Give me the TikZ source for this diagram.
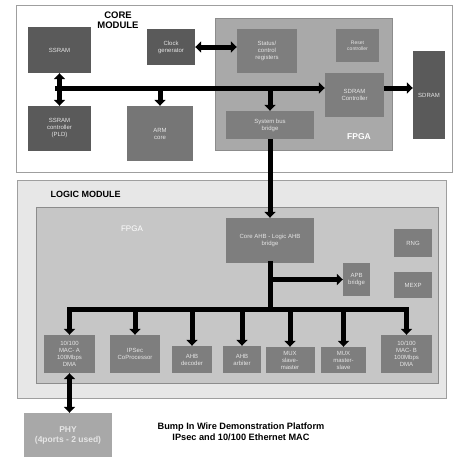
\documentclass[tikz,border=0pt]{standalone}
\usepackage{fontspec}
\setmainfont{Liberation Sans}
\usepackage{xcolor}
\usepackage{tikz}
\usetikzlibrary{arrows.meta,positioning}
\definecolor{bwdark}{HTML}{5A5A5A}
\definecolor{bwmid}{HTML}{7E7E7E}
\definecolor{bwarm}{HTML}{767676}
\definecolor{bwcorefpga}{HTML}{A9A9A9}
\definecolor{bwlogic}{HTML}{E7E7E7}
\definecolor{bwlogicfpga}{HTML}{C6C6C6}
\definecolor{bwphy}{HTML}{A8A8A8}
\tikzset{
  module/.style={draw=gray!75, fill=white, line width=0.8pt, inner sep=0pt},
  fpgabox/.style={draw=gray!90, fill=bwcorefpga, line width=0.6pt, inner sep=0pt},
  box/.style={fill=bwmid, text=white!90!black, align=center, inner sep=1pt, font=\fontsize{6}{7}\selectfont},
  darkbox/.style={box, fill=bwdark},
  title/.style={align=center, font=\fontsize{9.5}{10}\selectfont\bfseries},
  bus/.style={-{Triangle[length=6pt,width=11pt]}, line width=5pt},
  dbus/.style={{Triangle[length=6pt,width=11pt]}-{Triangle[length=6pt,width=11pt]}, line width=5pt},
  busline/.style={line width=5pt, line cap=rect}
}
\begin{document}
\begin{tikzpicture}[x=1pt, y=-1pt]
  \useasboundingbox (0,0) rectangle (460,463);

  % core module
  \node[module, minimum width=436pt, minimum height=167pt] (coremod) at (234,88.5) {};
  \node[title] (coretitle) at (118,20) {CORE\\MODULE};
  \node[fpgabox, minimum width=177pt, minimum height=132pt] (corefpga) at (303.5,84) {};
  \node[text=white, font=\fontsize{8.5}{9}\selectfont\bfseries] (corefpgalbl) at (359,137) {FPGA};
  \node[darkbox, minimum width=63pt, minimum height=46pt] (ssram) at (59.5,50) {SSRAM};
  \node[darkbox, minimum width=48pt, minimum height=36pt] (clkgen) at (171,47) {Clock\\generator};
  \node[darkbox, minimum width=63pt, minimum height=45pt] (ssramctl) at (59.5,128.5) {SSRAM\\controller\\(PLD)};
  \node[box, fill=bwarm, minimum width=66pt, minimum height=55pt] (armcore) at (160,133.5) {ARM\\core};
  \node[box, minimum width=60pt, minimum height=44pt] (status) at (267,51) {Status/\\control\\registers};
  \node[box, minimum width=43pt, minimum height=33pt, font=\fontsize{5}{6}\selectfont] (reset) at (357.5,45.5) {Reset\\controller};
  \node[box, minimum width=59pt, minimum height=44pt] (sdramctl) at (354.5,95) {SDRAM\\Controller};
  \node[box, minimum width=88pt, minimum height=28pt] (sysbridge) at (270,125) {System bus\\bridge};
  \node[darkbox, minimum width=32pt, minimum height=88pt] (sdram) at (429,95) {SDRAM};

  \coordinate (cbus) at (57,88);
  \draw[bus, line cap=rect] (cbus) -- (cbus -| sdramctl.west);
  \draw[dbus] (ssram.south) -- (ssramctl.north);
  \draw[bus] (cbus -| armcore.north) -- (armcore.north);
  \draw[bus] (cbus -| sysbridge.north) -- (sysbridge.north);
  \draw[bus] (cbus -| sdramctl.east) -- (cbus -| sdram.west);
  \draw[dbus] (clkgen.east) -- (clkgen.east -| status.west);

  % logic module
  \node[module, fill=bwlogic, minimum width=429pt, minimum height=218pt] (logicmod) at (231.5,289) {};
  \node[anchor=west, font=\fontsize{9}{10}\selectfont\bfseries] (logictitle) at (47,194) {LOGIC MODULE};
  \node[fpgabox, fill=bwlogicfpga, minimum width=402pt, minimum height=176pt] (logicfpga) at (237,295) {};
  \node[text=white, font=\fontsize{8}{9}\selectfont] (logicfpgalbl) at (132,229) {FPGA};
  \node[box, minimum width=88pt, minimum height=45pt] (ahbbridge) at (270,240.5) {Core AHB - Logic AHB\\bridge};
  \node[box, minimum width=38pt, minimum height=28pt] (rng) at (413,243) {RNG};
  \node[box, minimum width=38pt, minimum height=26pt] (mexp) at (413,285) {MEXP};
  \node[box, minimum width=27pt, minimum height=33pt] (apb) at (356.5,279.5) {APB\\bridge};
  \node[box, minimum width=51pt, minimum height=38pt] (maca) at (69.5,354) {10/100\\MAC- A\\100Mbps\\DMA};
  \node[box, minimum width=50pt, minimum height=38pt] (ipsec) at (135,354) {IPSec\\CoProcessor};
  \node[box, minimum width=40pt, minimum height=27pt] (ahbdec) at (192,359.5) {AHB\\decoder};
  \node[box, minimum width=38pt, minimum height=27pt] (ahbarb) at (242,359.5) {AHB\\arbiter};
  \node[box, minimum width=49pt, minimum height=26pt] (muxsm) at (290,360) {MUX\\slave-\\master};
  \node[box, minimum width=45pt, minimum height=26pt] (muxms) at (343.5,360) {MUX\\master-\\slave};
  \node[box, minimum width=51pt, minimum height=38pt] (macb) at (406.5,354) {10/100\\MAC- B\\100Mbps\\DMA};
  \node[box, fill=bwphy, minimum width=88pt, minimum height=44pt, font=\fontsize{8.5}{10}\selectfont\bfseries] (phy) at (68,435) {PHY\\(4ports - 2 used)};

  \draw[bus] (sysbridge.south) -- (sysbridge.south |- ahbbridge.north);
  \coordinate (lbus) at (270,309);
  \draw[busline] (ahbbridge.south) -- (lbus);
  \draw[bus] (ahbbridge.south |- apb.west) -- (apb.west);
  \draw[busline] (lbus -| maca.north) -- (lbus -| macb.north);
  \draw[bus] (lbus -| maca.north) -- (maca.north);
  \draw[bus] (lbus -| ipsec.north) -- (ipsec.north);
  \draw[bus] (lbus -| ahbdec.north) -- (ahbdec.north);
  \draw[bus] (lbus -| ahbarb.north) -- (ahbarb.north);
  \draw[bus] (lbus -| muxsm.north) -- (muxsm.north);
  \draw[bus] (lbus -| muxms.north) -- (muxms.north);
  \draw[bus] (lbus -| macb.north) -- (macb.north);
  \draw[dbus] (maca.south) -- (maca.south |- phy.north);

  \node[title, font=\fontsize{9.2}{11}\selectfont\bfseries] (caption) at (241,432) {Bump In Wire Demonstration Platform\\IPsec and 10/100 Ethernet MAC};
\end{tikzpicture}
\end{document}
